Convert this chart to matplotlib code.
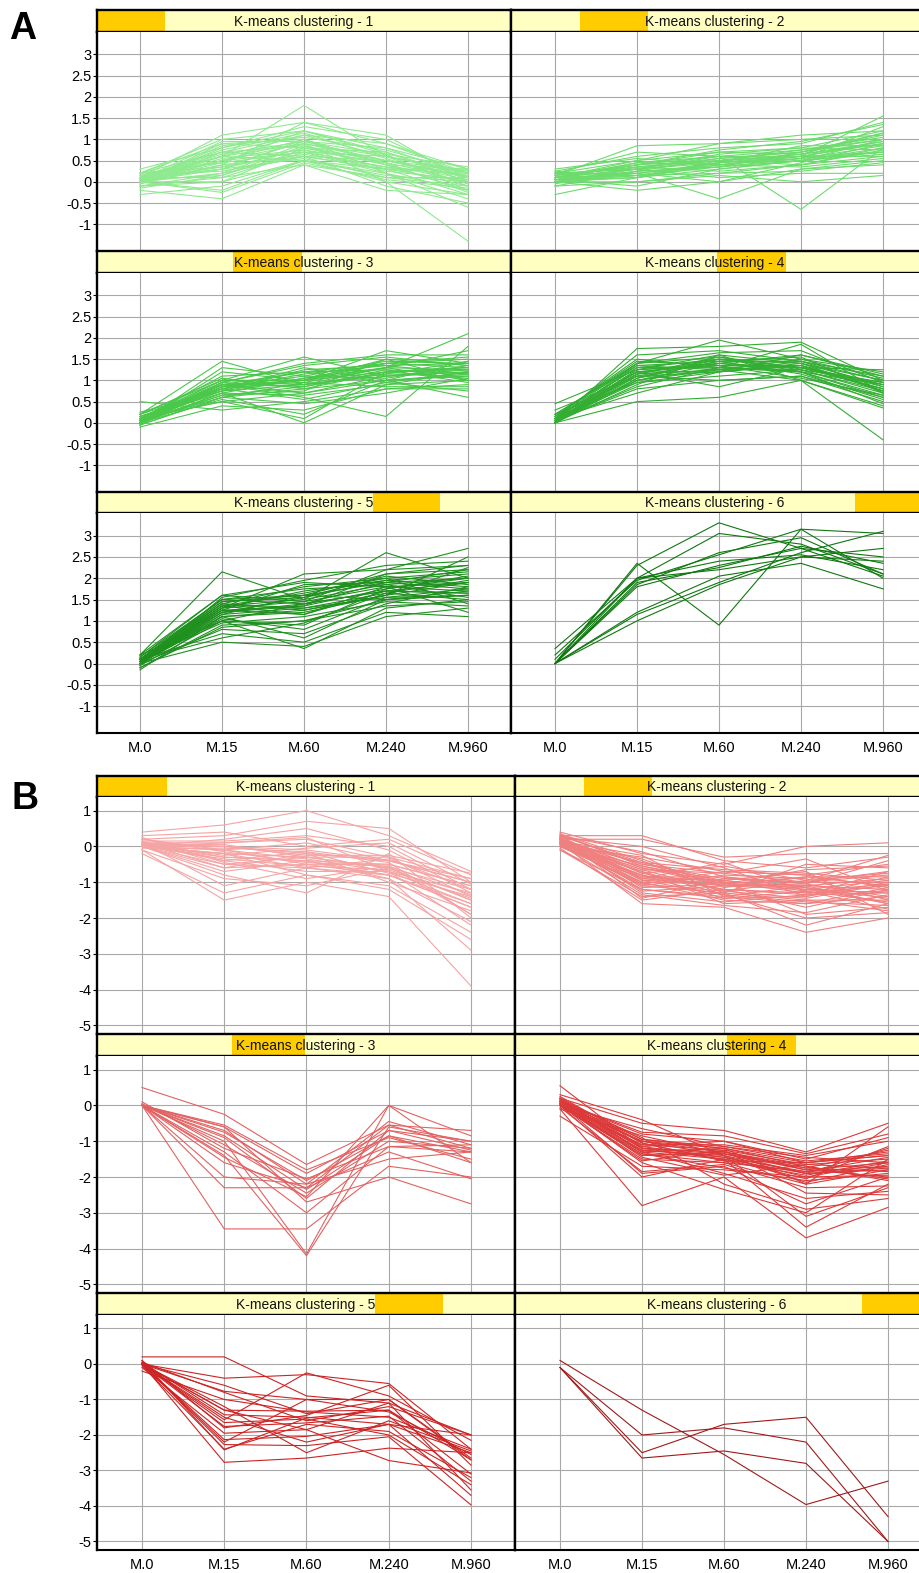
import matplotlib
matplotlib.use("Agg")
import matplotlib.pyplot as plt

plt.rcParams["font.family"] = ["Liberation Sans", "DejaVu Sans"]

W, H = 919, 1573

TIMEPOINTS = ["M.0", "M.15", "M.60", "M.240", "M.960"]
A_YTICKS = [-1, -0.5, 0, 0.5, 1, 1.5, 2, 2.5, 3]
A_YLABELS = ["-1", "-0.5", "0", "0.5", "1", "1.5", "2", "2.5", "3"]
B_YTICKS = [-5, -4, -3, -2, -1, 0, 1]
B_YLABELS = ["-5", "-4", "-3", "-2", "-1", "0", "1"]

# ---- panel A : up-regulated profiles (log ratio vs M.0) ----
A_CLUSTER_1 = [
    [0.0, 0.5, 0.9, 0.5, 0.1], [0.1, 0.7, 1.1, 0.6, 0.2], [-0.1, 0.2, 0.6, 0.3, 0.0],
    [0.2, 0.9, 1.0, 0.4, 0.3], [0.0, 0.0, 0.5, 0.2, -0.2], [0.05, 0.3, 0.8, 0.7, 0.1],
    [-0.2, -0.4, 0.4, 0.1, -0.1], [0.1, 1.1, 1.4, 0.9, 0.2], [0.0, 0.6, 1.8, 0.6, -0.1],
    [0.3, 0.8, 1.2, 0.8, 0.3], [0.0, 0.4, 1.4, 1.1, 0.0], [-0.3, -0.1, 0.5, 0.0, -0.3],
    [0.1, 0.5, 0.7, 0.2, -0.4], [0.0, 0.2, 0.9, 0.0, -1.4], [0.2, 0.7, 0.6, 0.3, 0.2],
    [0.0, 0.9, 0.8, 0.5, 0.1], [0.1, 0.3, 1.0, 0.4, -0.2], [-0.1, 0.1, 0.7, 0.6, 0.2],
    [0.0, -0.2, 0.5, 0.3, 0.3], [0.2, 1.0, 1.2, 0.7, 0.0], [0.05, 0.6, 1.1, 0.9, 0.3],
    [-0.05, 0.4, 0.6, -0.1, -0.5], [0.0, 0.8, 1.3, 1.0, 0.1], [0.1, 0.1, 0.4, -0.2, -0.3],
    [0.0, 0.5, 1.0, 0.2, -0.6], [0.15, 0.6, 0.9, 0.6, 0.25], [-0.1, 0.0, 0.8, 0.4, 0.0],
    [0.0, 0.3, 0.55, 0.1, 0.1], [0.1, 0.75, 1.15, 0.55, -0.05], [0.2, 0.45, 0.7, 0.35, 0.15],
    [0.0, -0.25, 0.45, 0.05, -0.15], [0.05, 0.95, 0.95, 0.65, 0.35], [-0.15, 0.15, 0.85, 0.45, -0.25],
    [0.0, 0.55, 0.75, 0.45, 0.05], [0.1, 0.65, 0.95, 0.5, 0.15], [0.05, 0.35, 0.65, 0.35, -0.1],
    [0.0, 0.85, 1.05, 0.75, 0.2], [0.15, 0.25, 0.6, 0.5, 0.25], [0.0, 0.45, 1.2, 0.65, -0.2],
    [0.1, 0.6, 0.5, 0.15, 0.0], [-0.05, 0.7, 0.85, 0.3, -0.3], [0.2, 0.35, 0.95, 0.8, 0.1],
    [0.05, 0.15, 0.75, 0.25, 0.05],
]
A_CLUSTER_2 = [
    [0.1, 0.3, 0.5, 0.6, 0.9], [0.0, 0.1, 0.3, 0.5, 0.7], [0.2, 0.5, 0.7, 0.8, 1.2],
    [-0.1, 0.0, 0.2, 0.4, 0.6], [0.15, 0.85, 0.9, 1.0, 1.1], [0.0, 0.2, -0.4, 0.3, 0.5],
    [0.1, 0.4, 0.6, -0.65, 0.8], [-0.3, 0.1, 0.4, 0.6, 1.55], [0.2, 0.3, 0.1, 0.2, 0.2],
    [0.05, 0.25, 0.55, 0.7, 1.0], [0.1, 0.15, 0.35, 0.55, 1.3], [0.25, 0.6, 0.8, 0.9, 1.4],
    [0.0, -0.2, 0.0, 0.3, 0.4], [0.1, 0.45, 0.6, 0.5, 0.65], [0.2, 0.2, 0.45, 0.85, 0.85],
    [-0.05, 0.35, 0.25, 0.4, 0.75], [0.1, 0.5, 0.9, 1.1, 1.2], [0.0, 0.0, 0.15, 0.0, 0.15],
    [0.15, 0.4, 0.7, 0.65, 0.95], [0.05, 0.1, 0.5, 0.75, 1.05], [0.3, 0.55, 0.4, 0.35, 0.55],
    [0.0, 0.3, 0.65, 0.8, 0.75], [0.1, 0.2, 0.0, 0.45, 0.9], [-0.1, 0.25, 0.35, 0.7, 1.15],
    [0.2, 0.7, 0.6, 0.6, 0.6], [0.05, -0.1, 0.3, 0.5, 1.0], [0.1, 0.4, 0.75, 0.95, 1.35],
    [0.0, 0.15, 0.2, 0.25, 0.45], [0.15, 0.35, 0.5, 0.4, 0.8], [0.25, 0.1, 0.45, 0.6, 0.7],
    [0.1, 0.3, 0.45, 0.55, 0.85], [0.05, 0.2, 0.4, 0.6, 0.95], [0.15, 0.35, 0.55, 0.7, 1.1],
    [0.0, 0.25, 0.35, 0.5, 0.8], [0.1, 0.4, 0.5, 0.65, 0.9], [0.2, 0.3, 0.6, 0.75, 1.0],
    [0.05, 0.45, 0.4, 0.55, 0.7], [0.1, 0.15, 0.45, 0.65, 1.15],
]
A_CLUSTER_3 = [
    [0.0, 0.8, 1.0, 1.2, 1.3], [0.1, 0.9, 1.2, 1.4, 1.5], [-0.05, 0.6, 0.8, 1.0, 1.1],
    [0.2, 1.45, 0.9, 1.3, 2.1], [0.0, 0.7, 0.0, 0.9, 1.0], [0.1, 1.0, 1.55, 1.1, 1.2],
    [0.5, 0.3, 0.5, 0.8, 0.9], [0.05, 0.9, 0.6, 0.15, 1.8], [0.0, 1.2, 1.0, 1.7, 1.4],
    [0.15, 0.8, 1.3, 1.0, 0.6], [0.1, 0.5, 0.1, 1.2, 1.25], [0.2, 1.0, 1.0, 1.3, 1.7],
    [0.0, 0.65, 0.75, 1.5, 1.0], [-0.1, 0.4, 0.3, 0.8, 0.8], [0.1, 0.85, 1.1, 1.05, 1.35],
    [0.05, 0.95, 1.4, 1.6, 1.6], [0.25, 0.75, 0.9, 1.15, 1.1], [0.0, 0.55, 0.2, 1.0, 1.45],
    [0.1, 1.1, 1.2, 1.25, 0.95], [0.15, 0.7, 0.65, 0.9, 1.2], [0.0, 0.85, 1.0, 1.4, 1.55],
    [-0.05, 0.6, 0.45, 0.7, 1.05], [0.2, 1.05, 0.8, 1.2, 1.3], [0.05, 0.75, 1.25, 1.35, 1.15],
    [0.1, 0.9, 0.95, 0.85, 0.85], [0.0, 1.3, 1.1, 1.45, 1.4], [0.1, 0.5, 0.7, 1.1, 1.25],
    [0.2, 0.8, 0.55, 0.95, 0.75], [-0.05, 0.95, 1.35, 1.55, 1.35], [0.05, 0.65, 0.85, 1.25, 1.15],
    [0.05, 0.85, 0.9, 1.1, 1.2], [0.0, 0.7, 1.05, 1.3, 1.25], [0.1, 0.95, 0.85, 1.2, 1.05],
    [0.05, 0.8, 1.15, 1.35, 1.4], [0.0, 0.9, 0.7, 1.0, 1.15], [0.15, 0.75, 1.05, 1.4, 1.3],
    [0.1, 1.0, 0.9, 1.15, 1.45], [0.0, 0.85, 1.2, 0.95, 1.2], [0.05, 0.6, 0.95, 1.3, 1.0],
    [0.1, 0.9, 1.0, 1.5, 1.35],
]
A_CLUSTER_4 = [
    [0.0, 1.2, 1.4, 1.3, 0.8], [0.1, 1.0, 1.3, 1.2, 0.6], [0.0, 1.75, 1.8, 1.9, 1.0],
    [0.2, 1.4, 1.95, 1.5, 1.2], [0.05, 0.8, 1.0, 1.1, 0.5], [0.0, 0.5, 0.6, 1.0, -0.4],
    [0.1, 1.3, 1.5, 1.4, 0.9], [0.3, 1.1, 1.2, 1.6, 1.1], [0.0, 0.9, 1.6, 1.0, 0.4],
    [0.15, 1.5, 1.3, 1.85, 0.7], [0.05, 1.2, 0.85, 1.3, 1.25], [0.0, 1.05, 1.45, 1.15, 0.55],
    [0.1, 1.6, 1.7, 1.45, 0.85], [0.2, 0.95, 1.1, 1.25, 0.95], [0.45, 1.25, 1.35, 1.05, 0.65],
    [0.0, 1.35, 1.25, 1.5, 1.05], [0.1, 0.7, 1.2, 1.35, 0.75], [0.05, 1.15, 1.55, 1.2, 0.45],
    [0.0, 1.0, 1.4, 1.6, 1.15], [0.15, 1.45, 1.35, 1.3, 0.8], [0.1, 1.1, 1.0, 1.1, 0.6],
    [0.0, 1.25, 1.6, 1.4, 1.0], [0.05, 0.85, 1.3, 1.2, 0.9], [0.2, 1.35, 1.45, 1.55, 0.7],
    [0.0, 1.15, 1.25, 1.0, 0.35], [0.1, 1.4, 1.65, 1.7, 0.95], [0.05, 0.95, 1.2, 1.45, 1.1],
    [0.0, 1.05, 1.5, 1.25, 0.75],
    [0.05, 1.2, 1.35, 1.35, 0.85], [0.0, 1.15, 1.5, 1.3, 0.9], [0.1, 1.3, 1.3, 1.25, 0.7],
    [0.0, 1.1, 1.45, 1.45, 1.0], [0.05, 1.25, 1.4, 1.2, 0.65], [0.1, 1.0, 1.25, 1.35, 0.8],
    [0.0, 1.4, 1.55, 1.3, 0.95], [0.15, 1.2, 1.2, 1.4, 0.75],
]
A_CLUSTER_5 = [
    [0.0, 1.2, 1.4, 1.7, 1.9], [0.1, 1.5, 1.6, 1.9, 2.2], [-0.1, 0.9, 1.0, 1.5, 1.6],
    [0.2, 2.15, 1.5, 2.6, 2.0], [0.0, 0.5, 0.4, 1.1, 1.3], [0.05, 1.3, 2.1, 2.2, 2.7],
    [0.1, 1.0, 0.35, 1.3, 1.5], [0.0, 1.4, 1.8, 2.0, 1.4], [-0.15, 1.1, 1.2, 1.6, 2.5],
    [0.15, 1.6, 1.9, 1.8, 1.2], [0.0, 0.8, 0.7, 1.4, 1.8], [0.1, 1.25, 1.35, 2.1, 2.3],
    [0.05, 1.45, 1.6, 1.5, 1.7], [0.2, 1.0, 0.9, 1.75, 2.05], [0.0, 1.35, 1.5, 1.85, 1.55],
    [0.1, 0.7, 0.5, 1.2, 1.1], [-0.05, 1.55, 1.95, 2.3, 2.4], [0.05, 1.15, 1.3, 1.65, 1.95],
    [0.1, 0.95, 1.1, 1.45, 1.35], [0.0, 1.3, 1.7, 1.95, 2.1], [0.15, 1.5, 1.4, 1.7, 1.65],
    [0.0, 1.05, 0.8, 1.55, 1.75], [0.05, 1.2, 1.55, 2.05, 1.85], [0.1, 1.4, 1.25, 1.6, 2.25],
    [-0.1, 0.85, 1.0, 1.35, 1.45], [0.0, 1.25, 1.85, 1.9, 2.0], [0.2, 1.6, 1.45, 2.2, 2.3],
    [0.05, 1.1, 0.6, 1.5, 1.6], [0.0, 1.35, 1.15, 1.8, 1.9], [0.1, 0.6, 0.95, 1.65, 1.5],
    [0.0, 1.3, 1.45, 1.8, 1.7], [0.05, 1.2, 1.35, 1.75, 2.0], [0.1, 1.45, 1.55, 1.95, 1.8],
    [0.0, 1.1, 1.25, 1.6, 1.9], [0.05, 1.35, 1.65, 2.0, 2.15], [0.0, 1.25, 1.15, 1.7, 1.65],
    [0.1, 1.5, 1.75, 1.85, 2.0], [-0.05, 1.0, 1.4, 1.9, 1.75], [0.05, 1.4, 1.3, 1.55, 1.6],
    [0.0, 1.15, 1.6, 2.1, 2.2],
]
A_CLUSTER_6 = [
    [0.0, 2.3, 3.3, 2.7, 2.5], [0.0, 2.0, 3.05, 2.8, 2.1], [0.0, 1.8, 2.3, 2.7, 2.05],
    [0.0, 2.35, 0.9, 3.15, 3.05], [0.35, 2.0, 2.2, 2.5, 2.7], [0.0, 1.15, 1.9, 2.6, 3.1],
    [0.0, 1.0, 1.85, 2.5, 2.4], [0.2, 1.95, 2.55, 3.15, 2.0], [0.0, 1.9, 2.25, 2.75, 2.35],
    [0.0, 1.2, 2.05, 2.35, 1.75], [0.0, 1.85, 2.6, 2.95, 2.1], [0.1, 2.0, 2.4, 2.55, 2.2],
]

# ---- panel B : down-regulated profiles ----
B_CLUSTER_1 = [
    [0.0, -0.2, -0.3, -0.6, -1.2], [0.1, 0.0, -0.1, -0.4, -0.9], [0.0, -0.5, -0.6, -0.8, -1.6],
    [0.4, 0.6, 1.0, 0.3, -0.7], [-0.1, -1.5, -1.0, -1.4, -3.9], [0.0, -0.8, -1.3, -0.2, -2.0],
    [0.2, 0.3, 0.7, 0.5, -1.0], [0.0, -0.3, -0.4, -0.9, -2.9], [0.1, 0.1, 0.2, -0.3, -1.4],
    [-0.2, -1.3, -0.8, -1.1, -2.4], [0.0, -0.1, -0.5, -0.5, -1.1], [0.3, 0.4, 0.0, 0.2, -0.8],
    [0.0, -0.6, -0.2, -1.0, -1.8], [0.1, -0.4, -0.7, -0.7, -2.2], [0.0, 0.2, 0.5, -0.1, -1.3],
    [-0.1, -0.9, -1.1, -0.6, -1.5], [0.2, -0.1, 0.1, -0.4, -1.0], [0.0, -0.2, -0.8, -1.2, -2.6],
    [0.05, 0.05, -0.3, -0.3, -0.9], [0.0, -0.7, -0.4, -0.8, -1.7], [0.15, 0.15, 0.3, 0.0, -1.2],
    [0.0, -0.35, -0.55, -0.65, -1.45], [-0.05, -0.05, -0.15, -0.45, -1.9], [0.1, -1.1, -0.6, -0.9, -2.1],
    [0.0, 0.0, -0.25, -0.25, -0.75], [0.25, -0.45, -0.9, -0.55, -1.35], [0.0, 0.1, 0.25, -0.7, -1.6],
    [0.05, -0.25, -0.05, 0.1, -1.05],
    [0.1, -0.3, -0.4, -0.5, -1.1], [0.0, -0.1, -0.35, -0.7, -1.3], [0.15, -0.5, -0.3, -0.6, -1.5],
    [0.05, 0.0, -0.2, -0.4, -1.0], [0.1, -0.6, -0.5, -0.8, -1.7], [0.0, -0.2, -0.6, -0.35, -1.2],
    [0.2, -0.15, -0.45, -0.55, -1.9], [0.05, -0.4, -0.15, -0.75, -1.4],
]
B_CLUSTER_2 = [
    [0.2, -0.5, -0.9, -1.0, -0.8], [0.1, -0.8, -1.2, -1.3, -1.1], [0.3, 0.3, -0.4, -0.6, -0.3],
    [0.0, -1.0, -1.5, -1.6, -1.4], [0.4, -0.2, -0.5, 0.0, 0.1], [0.1, -1.6, -1.7, -2.4, -2.0],
    [-0.1, -1.4, -1.3, -2.2, -1.6], [0.2, -0.6, -1.0, -1.9, -1.7], [0.0, -0.3, -0.7, -0.8, -0.5],
    [0.3, -0.9, -1.1, -1.2, -1.3], [0.1, -1.2, -1.4, -1.1, -0.9], [0.2, 0.2, -0.3, -0.2, -0.2],
    [0.0, -0.7, -1.6, -1.5, -1.8], [0.15, -1.1, -0.8, -0.9, -1.5], [0.35, -0.4, -1.3, -0.5, -0.6],
    [-0.05, -1.5, -1.2, -1.7, -1.2], [0.25, 0.0, -0.6, -1.4, -1.0], [0.1, -0.85, -0.95, -0.7, -1.9],
    [0.2, -1.3, -1.55, -1.35, -0.7], [0.05, -0.55, -1.05, -1.15, -1.45], [0.3, -0.15, -0.85, -1.05, -0.4],
    [0.0, -1.05, -1.25, -1.45, -1.05], [0.15, -0.65, -0.75, -0.35, -1.25], [0.25, -0.95, -1.35, -1.55, -1.65],
    [0.1, -0.35, -1.15, -0.85, -0.85], [-0.1, -1.2, -1.45, -1.25, -1.55], [0.2, -0.75, -0.55, -0.95, -0.25],
    [0.05, -1.35, -1.65, -1.85, -1.35], [0.3, -0.45, -0.65, -0.75, -0.95], [0.15, -0.25, -1.4, -1.6, -1.15],
    [0.0, -0.9, -0.45, -1.25, -1.75], [0.2, -1.15, -1.05, -0.65, -0.55], [0.1, -0.7, -1.35, -2.0, -1.85],
    [0.25, -1.45, -0.9, -1.0, -1.0],
    [0.2, -0.6, -1.1, -1.1, -1.2], [0.1, -0.9, -0.95, -1.2, -0.95], [0.25, -0.75, -1.2, -1.35, -1.3],
    [0.15, -1.0, -1.05, -0.85, -1.1], [0.3, -0.5, -0.75, -1.0, -0.7], [0.05, -1.1, -1.3, -1.5, -1.5],
    [0.2, -0.85, -0.85, -1.15, -1.6], [0.1, -0.65, -1.25, -0.95, -0.75], [0.25, -0.95, -1.0, -1.3, -1.25],
    [0.15, -1.25, -1.1, -1.05, -1.4], [0.35, -0.55, -0.95, -1.25, -1.05], [0.0, -0.8, -1.45, -1.4, -0.85],
    [0.2, -1.05, -0.7, -0.8, -1.15], [0.1, -0.45, -1.0, -1.1, -1.6],
]
B_CLUSTER_3 = [
    [0.5, -0.25, -1.65, -0.55, -0.7], [0.0, -0.6, -1.9, -0.7, -1.0], [0.0, -0.7, -2.2, -0.45, -1.1],
    [0.0, -0.85, -2.35, -0.85, -1.3], [0.1, -1.2, -2.05, -1.15, -1.1], [0.0, -1.45, -2.55, 0.0, -0.85],
    [0.0, -2.0, -2.2, -1.5, -1.3], [0.0, -2.3, -2.3, -0.55, -1.2], [0.0, -3.45, -3.45, -1.7, -2.0],
    [0.0, -1.0, -4.15, 0.0, -1.6], [0.0, -0.6, -2.7, -2.0, -2.75], [0.0, -1.3, -3.0, -1.15, -1.3],
    [0.0, -0.75, -2.1, -0.85, -1.6], [0.05, -1.1, -2.45, -1.0, -1.2], [0.0, -0.55, -1.8, -0.9, -1.5],
    [0.0, -1.4, -4.2, -0.6, -1.0], [0.0, -1.6, -2.3, -1.3, -2.05], [0.0, -0.9, -2.6, -0.7, -1.25],
]
B_CLUSTER_4 = [
    [0.0, -1.0, -1.2, -1.6, -1.4], [0.2, -0.5, -0.7, -1.3, -0.5], [0.0, -1.5, -1.6, -2.2, -1.8],
    [0.55, -1.2, -1.3, -1.8, -2.0], [-0.1, -2.8, -2.0, -3.7, -2.85], [0.0, -2.0, -1.5, -3.4, -2.2],
    [0.1, -0.8, -1.0, -1.5, -0.9], [0.0, -1.3, -1.9, -2.6, -2.4], [0.3, -0.4, -1.4, -1.9, -1.2],
    [-0.3, -1.7, -1.8, -2.0, -1.6], [0.0, -1.1, -1.1, -1.4, -1.0], [0.15, -0.9, -2.2, -2.9, -2.6],
    [0.0, -1.4, -1.3, -1.7, -2.1], [0.05, -1.6, -2.35, -3.0, -1.5], [0.2, -0.95, -1.15, -1.55, -1.35],
    [0.0, -1.25, -1.45, -1.85, -1.7], [-0.05, -1.85, -1.65, -2.3, -2.25], [0.1, -0.75, -0.85, -1.35, -0.8],
    [0.0, -1.35, -1.75, -2.1, -1.9], [0.25, -1.05, -1.55, -1.95, -1.55], [0.0, -1.55, -1.25, -2.45, -2.5],
    [0.1, -1.15, -1.0, -1.6, -1.3], [-0.1, -0.85, -1.35, -1.75, -1.85], [0.05, -1.9, -1.7, -2.75, -2.0],
    [0.15, -1.2, -1.5, -2.05, -1.15], [0.0, -0.65, -1.15, -1.45, -1.6], [0.1, -1.45, -1.95, -1.65, -1.75],
    [0.0, -1.0, -1.4, -3.1, -2.3], [0.2, -1.3, -1.2, -2.2, -0.6],
    [0.1, -1.2, -1.35, -1.8, -1.6], [0.0, -1.1, -1.25, -1.65, -1.5], [0.15, -1.3, -1.5, -1.9, -1.8],
    [0.05, -1.0, -1.3, -1.75, -1.25], [0.2, -1.15, -1.45, -2.0, -1.95], [0.0, -1.35, -1.6, -1.85, -1.45],
    [0.1, -0.95, -1.2, -1.7, -2.05], [0.05, -1.25, -1.4, -2.15, -1.65], [0.15, -1.05, -1.55, -1.6, -1.4],
    [0.0, -1.4, -1.35, -1.9, -1.75],
]
B_CLUSTER_5 = [
    [0.2, 0.2, -0.9, -1.1, -2.0], [0.0, -0.4, -0.3, -0.55, -2.4], [0.0, -0.77, -1.0, -1.0, -2.7],
    [0.0, -1.3, -1.33, -1.3, -3.1], [0.05, -1.43, -1.5, -1.7, -2.5], [0.0, -1.57, -0.25, -0.9, -2.15],
    [0.0, -1.76, -1.66, -1.47, -3.3], [-0.1, -1.95, -1.85, -1.1, -3.55], [0.0, -2.13, -2.04, -1.7, -2.0],
    [0.0, -2.27, -2.3, -2.05, -3.97], [0.1, -2.42, -1.52, -1.3, -2.7], [0.0, -2.77, -2.65, -2.37, -2.5],
    [0.0, -1.3, -1.85, -2.72, -3.07], [-0.2, -1.0, -1.35, -1.5, -2.4], [0.05, -0.8, -1.6, -1.2, -2.0],
    [0.0, -1.5, -2.2, -1.7, -3.7], [0.0, -2.2, -1.0, -1.35, -2.55], [0.1, -1.8, -1.45, -0.6, -2.85],
    [0.0, -1.2, -2.5, -1.6, -2.45], [-0.05, -2.4, -1.7, -1.9, -3.2], [0.0, -0.6, -1.4, -1.0, -2.65],
    [0.0, -1.65, -1.55, -2.0, -3.4],
]
B_CLUSTER_6 = [
    [0.1, -1.3, -2.55, -3.96, -3.3], [-0.1, -2.0, -1.8, -2.2, -5.0],
    [-0.1, -2.5, -1.7, -1.5, -4.3], [-0.1, -2.65, -2.45, -2.8, -5.0],
]

A_CLUSTERS = [A_CLUSTER_1, A_CLUSTER_2, A_CLUSTER_3, A_CLUSTER_4, A_CLUSTER_5, A_CLUSTER_6]
B_CLUSTERS = [B_CLUSTER_1, B_CLUSTER_2, B_CLUSTER_3, B_CLUSTER_4, B_CLUSTER_5, B_CLUSTER_6]

A_COLORS = ["#8EEA8E", "#6CDC6C", "#4AC84A", "#33AE33", "#1E901E", "#0E780E"]
B_COLORS = ["#F5A4A4", "#F08080", "#E26262", "#DC3A3A", "#CC2424", "#A01A1A"]

BAR_YELLOW = "#FFFFC2"
BAR_ORANGE = "#FFCC00"
GRID_GREY = "#A8A8A8"

# layout in pixels: columns (x0, x1), rows (bar top, plot top, plot bottom)
A_LAYOUT = dict(
    cols=[(97, 511), (511, 919)],
    rows=[(10, 32, 251), (251, 273, 492), (492, 513, 733)],
    xlims=[(-0.524, 4.524), (-0.537, 4.439)],
    ylim=(-1.63, 3.53),
    highlight=[(0.0, 0.164), (0.169, 0.336), (0.329, 0.495),
               (0.505, 0.674), (0.667, 0.828), (0.843, 1.0)],
)
B_LAYOUT = dict(
    cols=[(97, 515), (515, 919)],
    rows=[(776, 797, 1034), (1034, 1056, 1293), (1293, 1315, 1550)],
    xlims=[(-0.547, 4.535), (-0.549, 4.378)],
    ylim=(-5.24, 1.38),
    highlight=[(0.0, 0.167), (0.171, 0.339), (0.323, 0.498),
               (0.525, 0.696), (0.665, 0.828), (0.859, 1.0)],
)


def frac(x0, y0, x1, y1):
    return [x0 / W, 1 - y1 / H, (x1 - x0) / W, (y1 - y0) / H]


def draw_panel(fig, clusters, colors, layout, yticks, ylabels):
    for i, profiles in enumerate(clusters):
        r, c = divmod(i, 2)
        cx0, cx1 = layout["cols"][c]
        ty, py0, py1 = layout["rows"][r]

        # title bar
        tb = fig.add_axes(frac(cx0, ty, cx1, py0))
        tb.set_xlim(0, 1)
        tb.set_ylim(0, 1)
        tb.set_facecolor(BAR_YELLOW)
        h0, h1 = layout["highlight"][i]
        tb.axvspan(h0, h1, color=BAR_ORANGE, lw=0)
        tb.text(0.5, 0.47, f"K-means clustering - {i + 1}", ha="center", va="center",
                fontsize=10, color="#111111")
        tb.set_xticks([])
        tb.set_yticks([])
        for s in tb.spines.values():
            s.set_color("black")
            s.set_linewidth(1.7)
        if c == 1:
            tb.spines["right"].set_visible(False)

        # profile plot
        ax = fig.add_axes(frac(cx0, py0, cx1, py1))
        for prof in profiles:
            ax.plot(range(len(TIMEPOINTS)), prof, color=colors[i], lw=0.8)
        ax.set_xlim(layout["xlims"][c])
        ax.set_ylim(layout["ylim"])
        ax.set_xticks(range(len(TIMEPOINTS)))
        ax.set_xticklabels(TIMEPOINTS)
        ax.set_yticks(yticks)
        ax.set_yticklabels(ylabels)
        ax.grid(True, color=GRID_GREY, lw=0.8)
        ax.set_axisbelow(True)
        ax.spines["top"].set_visible(False)
        ax.spines["left"].set_linewidth(1.7)
        ax.spines["right"].set_linewidth(1.7)
        if c == 1:
            ax.spines["right"].set_visible(False)
        if r == 2:
            ax.spines["bottom"].set_linewidth(1.5)
            ax.tick_params(axis="x", length=0, labelsize=10.5, pad=6)
        else:
            ax.spines["bottom"].set_visible(False)
            ax.tick_params(axis="x", length=0, labelbottom=False)
        if c == 0:
            ax.tick_params(axis="y", length=3, width=0.8, direction="out",
                           labelsize=10.5, pad=1)
        else:
            ax.tick_params(axis="y", length=0, labelleft=False)


fig = plt.figure(figsize=(W / 100, H / 100), dpi=100)
fig.patch.set_facecolor("white")

draw_panel(fig, A_CLUSTERS, A_COLORS, A_LAYOUT, A_YTICKS, A_YLABELS)
draw_panel(fig, B_CLUSTERS, B_COLORS, B_LAYOUT, B_YTICKS, B_YLABELS)

fig.text(9 / W, 1 - 11 / H, "A", fontsize=27, fontweight="bold", ha="left", va="top")
fig.text(11 / W, 1 - 781 / H, "B", fontsize=27, fontweight="bold", ha="left", va="top")

fig.savefig("out.png", dpi=100, facecolor="white")
